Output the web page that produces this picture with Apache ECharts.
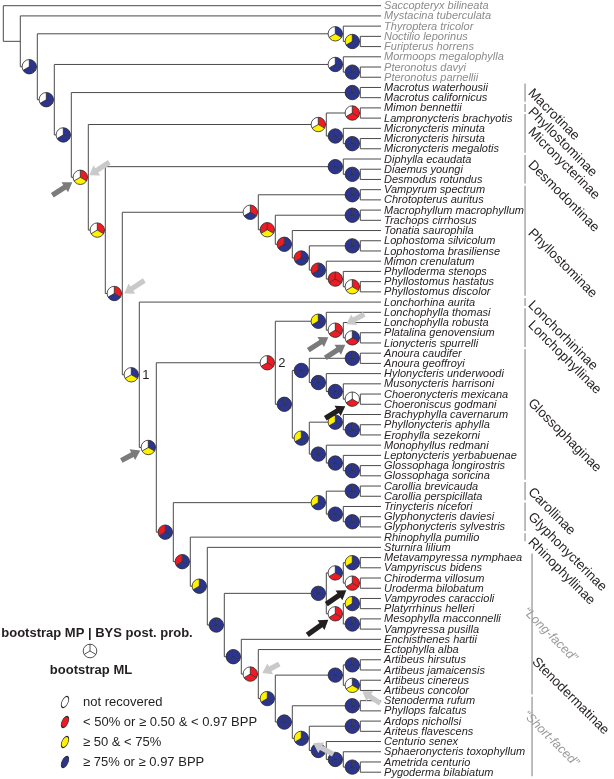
<!DOCTYPE html>
<html><head><meta charset="utf-8">
<script src="https://cdn.jsdelivr.net/npm/echarts@6/dist/echarts.min.js"></script>
<style>html,body{margin:0;padding:0;background:#fff}#c{width:614px;height:779px}</style>
</head><body><div id="c"></div>
<script>
// ---------------- DATA ----------------
const taxa = [
 "Saccopteryx bilineata","Mystacina tuberculata","Thyroptera tricolor","Noctilio leporinus","Furipterus horrens",
 "Mormoops megalophylla","Pteronotus davyi","Pteronotus parnellii","Macrotus waterhousii","Macrotus californicus",
 "Mimon bennettii","Lampronycteris brachyotis","Micronycteris minuta","Micronycteris hirsuta","Micronycteris megalotis",
 "Diphylla ecaudata","Diaemus youngi","Desmodus rotundus","Vampyrum spectrum","Chrotopterus auritus",
 "Macrophyllum macrophyllum","Trachops cirrhosus","Tonatia saurophila","Lophostoma silvicolum","Lophostoma brasiliense",
 "Mimon crenulatum","Phylloderma stenops","Phyllostomus hastatus","Phyllostomus discolor","Lonchorhina aurita",
 "Lonchophylla thomasi","Lonchophylla robusta","Platalina genovensium","Lionycteris spurrelli","Anoura caudifer",
 "Anoura geoffroyi","Hylonycteris underwoodi","Musonycteris harrisoni","Choeronycteris mexicana","Choeroniscus godmani",
 "Brachyphylla cavernarum","Phyllonycteris aphylla","Erophylla sezekorni","Monophyllus redmani","Leptonycteris yerbabuenae",
 "Glossophaga longirostris","Glossophaga soricina","Carollia brevicauda","Carollia perspicillata","Trinycteris nicefori",
 "Glyphonycteris daviesi","Glyphonycteris sylvestris","Rhinophylla pumilio","Sturnira lilium","Metavampyressa nymphaea",
 "Vampyriscus bidens","Chiroderma villosum","Uroderma bilobatum","Vampyrodes caraccioli","Platyrrhinus helleri",
 "Mesophylla macconnelli","Vampyressa pusilla","Enchisthenes hartii","Ectophylla alba","Artibeus hirsutus",
 "Artibeus jamaicensis","Artibeus cinereus","Artibeus concolor","Stenoderma rufum","Phyllops falcatus",
 "Ardops nichollsi","Ariteus flavescens","Centurio senex","Sphaeronycteris toxophyllum","Ametrida centurio",
 "Pygoderma bilabiatum"];
const outgroupCount = 8;

// Topology: numbers = rows of `taxa`; code after ')' = support MP | BYS | ML
// W not recovered, R <50% / <0.97, Y 50-75%, B >=75% / >=0.97, '-' no pie
const cladeMicronycterinae = "((10,11)WRR,(12,(13,14)BBB)BBB)WRY";
const cladeDesmodontinae  = "(15,(16,17)BBB)BBB";
const cladePhyllostominae = "((18,19)BBB,((20,21)BBB,(22,((23,24)BBB,(25,(26,(27,28)WRY)RRR)RBB)RBB)RBB)RRY)WRB";
const cladeLonchophyllinae = "(30,(31,(32,33)WBR)WRR)YBB";
const cladeGlossophaginae = "(((34,35)BBB,(36,(37,(38,39)WWR)BBB)BBB)BBB,((40,(41,42)BBB)YBB,(43,(44,(45,46)BBB)BBB)BBB)YBB)BBB";
const cladeCarolGlypho = "((47,48)BBB,(49,(50,51)BBB)BBB)YBB";
const cladeLongFaced = "(((54,55)YBB,(56,57)WRR)WBR,((58,59)YBB,(60,61)BBB)WRR)BBB";
const cladeShortFaced = "(63,(((64,65)BBB,(66,67)WBY)BBB,((68,69)BBB,((70,71)BBB,(72,(73,(74,75)BBB)BBB)BBB)YBB)BBB)YBB)WRR";

const supportColors = {W:'#ffffff', R:'#ed1c24', Y:'#fff200', B:'#2b3590'};

const subfamilies = ["Macrotinae","Phyllostominae","Micronycterinae","Desmodontinae","Phyllostominae",
 "Lonchorhininae","Lonchophyllinae","Glossophaginae","Carollinae","Glyphonycterinae","Rhinophyllinae"];
const subfamilyFrom = [8,10,11,15,18,29,30,34,47,49,52];
const subfamilyTo   = [9,10,14,17,28,29,33,46,48,51,52];
const groups = ["\u201CLong-faced\u201D","\u201CShort-faced\u201D"];
const groupFrom = [54,68];
const groupTo   = [67,75];

const legendLabels = ["not recovered","< 50% or \u2265 0.50 & < 0.97 BPP","\u2265 50 & < 75%","\u2265 75% or \u2265 0.97 BPP"];
const legendCodes = ["W","R","Y","B"];

// ---------------- TREE BUILD ----------------
const backbone =
 "(0,(1,((2,(3,4)YBB)WBY,((5,(6,7)BBB)WBB,((8,9)BBB,(" + cladeMicronycterinae + ",(" + cladeDesmodontinae +
 ",(" + cladePhyllostominae + ",(29,((" + cladeLonchophyllinae + "," + cladeGlossophaginae + ")WRR,(" +
 cladeCarolGlypho + ",(52,(53,(" + cladeLongFaced + ",(62," + cladeShortFaced + ")BBB)BBB)YBB)RBB)RBB)WBY)WBY)WRB)WRY)WRY)WBB)WBB)WBB)-)-";

function parseTree(s){
  let i = 0;
  function node(){
    if (s[i] === '('){
      i++; const ch = [node()];
      while (s[i] === ','){ i++; ch.push(node()); }
      i++;
      let lab = ''; while (i < s.length && /[A-Z\-]/.test(s[i])) lab += s[i++];
      return {children: ch, support: lab === '-' ? null : lab};
    }
    let num = ''; while (/[0-9]/.test(s[i])) num += s[i++];
    return {tip: +num};
  }
  return node();
}
const root = parseTree(backbone);
const nodes = [];
function heights(n){
  if (n.tip !== undefined){ n.h = 0; n.y = n.tip; n.first = n.last = n.tip; return; }
  n.children.forEach(heights);
  n.h = 1 + Math.max(...n.children.map(c => c.h));
  n.y = (n.children[0].y + n.children[n.children.length-1].y) / 2;
  n.first = n.children[0].first; n.last = n.children[n.children.length-1].last;
  nodes.push(n);
}
heights(root);
const ROOT_H = root.h;
const TIP_X = ROOT_H + 0.22;
function setX(n){ n.x = n.tip !== undefined ? TIP_X : ROOT_H - n.h; if (n.children) n.children.forEach(setX); }
setX(root);

const segments = [];
nodes.forEach(n => {
  segments.push([n.x, n.children[0].y, n.x, n.children[n.children.length-1].y]);
  n.children.forEach(c => segments.push([n.x, c.y, c.x, c.y]));
});
const pieNodes = nodes.filter(n => n.support);
const findNode = (a,b) => nodes.find(n => n.first === a && n.last === b);

// annotations (pixel offsets relative to pie centre)
const arrowColors = {dark:'#7b7b7b', light:'#c9c9c9', black:'#231f20'};
const arrows = [
 {clade:[10,75], c:'dark',  head:[-8,5],  tail:[-28,18]},
 {clade:[10,75], c:'light', head:[9,-2],  tail:[29,-15]},
 {clade:[18,75], c:'light', head:[10,0],  tail:[30,-13]},
 {clade:[30,75], c:'dark',  head:[-8,3],  tail:[-27,13]},
 {clade:[31,33], c:'dark',  head:[-7,7],  tail:[-27,20]},
 {clade:[31,33], c:'light', head:[11,-6], tail:[29,-16]},
 {clade:[32,33], c:'dark',  head:[-7,7],  tail:[-27,20]},
 {clade:[38,39], c:'black', head:[-7,7],  tail:[-27,19]},
 {clade:[56,57], c:'black', head:[-6,7],  tail:[-26,21]},
 {clade:[58,61], c:'black', head:[-7,6],  tail:[-28,21]},
 {clade:[63,75], c:'light', head:[12,-1], tail:[29,-10]},
 {clade:[66,67], c:'light', head:[10,6],  tail:[28,18]},
 {clade:[70,75], c:'light', head:[12,5],  tail:[32,16]}
];
const nodeNumbers = [{clade:[29,75], text:'1'}, {clade:[30,46], text:'2'}];
const subLabelRow = [8.35,10.2,12.16,15.39,22.05,29.09,31.05,38.68,47.39,49.83,52.28];
const groupLabelRow = [59.1,69.2];
const stenoLabelRow = 64.0;

// ---------------- CHART ----------------
const PX_LEVEL = 17, PX_ROW = 10.22, PIE_R = 7.2, PIE_OFF = 8;
const FONT = '"Liberation Sans", Arial, sans-serif';
const chart = echarts.init(document.getElementById('c'));

function pieGroup(cx, cy, r, code){
  const secs = [[150,270],[-90,30],[30,150]];
  const ch = secs.map((s,k) => ({type:'sector', shape:{cx, cy, r0:0, r, startAngle:s[0]*Math.PI/180, endAngle:s[1]*Math.PI/180, clockwise:true},
     style:{fill: code ? supportColors[code[k]] : '#fff'}}));
  ch.push({type:'circle', shape:{cx, cy, r}, style:{fill:'none', stroke:'#2a2a2a', lineWidth:0.8}});
  [-90,30,150].forEach(a => ch.push({type:'line', shape:{x1:cx, y1:cy, x2:cx+r*Math.cos(a*Math.PI/180), y2:cy+r*Math.sin(a*Math.PI/180)}, style:{stroke:'#2a2a2a', lineWidth:0.8}}));
  return ch;
}

const option = {
  animation:false,
  grid:{left:3.3, top:5.7, width:PX_LEVEL*TIP_X, height:PX_ROW*(taxa.length-1)},
  xAxis:{type:'value', min:0, max:TIP_X, show:false},
  yAxis:{type:'value', min:0, max:taxa.length-1, inverse:true, show:false},
  series:[
    { type:'custom', clip:false, silent:true, z:1,
      data:segments, encode:{x:[0,2], y:[1,3]},
      renderItem:(p, api) => {
        const a = api.coord([api.value(0), api.value(1)]), b = api.coord([api.value(2), api.value(3)]);
        return {type:'line', shape:{x1:a[0], y1:a[1], x2:b[0], y2:b[1]}, style:{stroke:'#4a4a4a', lineWidth:1}};
      }},
    { type:'custom', clip:false, silent:true, z:3,
      data:pieNodes.map((n,i) => [n.x, n.y, i]),
      renderItem:(p, api) => {
        const c = api.coord([api.value(0), api.value(1)]);
        return {type:'group', children: pieGroup(c[0]-PIE_OFF, c[1], PIE_R, pieNodes[api.value(2)].support)};
      }},
    { type:'custom', clip:false, silent:true, z:4,
      data:arrows.map((a,i) => { const n = findNode(a.clade[0], a.clade[1]); return [n.x, n.y, i]; }),
      renderItem:(p, api) => {
        const c = api.coord([api.value(0), api.value(1)]);
        const a = arrows[api.value(2)];
        const cx = c[0]-PIE_OFF, cy = c[1];
        const H = [cx+a.head[0], cy+a.head[1]], T = [cx+a.tail[0], cy+a.tail[1]];
        const L = Math.hypot(H[0]-T[0], H[1]-T[1]); const u = [(H[0]-T[0])/L, (H[1]-T[1])/L], nn = [-u[1], u[0]];
        const B = [H[0]-u[0]*9, H[1]-u[1]*9];
        const pt = (P, k) => [P[0]+nn[0]*k, P[1]+nn[1]*k];
        return {type:'polygon', shape:{points:[pt(T,2.6), pt(B,2.6), pt(B,6), H, pt(B,-6), pt(B,-2.6), pt(T,-2.6)]}, style:{fill:arrowColors[a.c]}};
      }},
    { type:'custom', clip:false, silent:true, z:5,
      data:taxa.map((t,i) => [TIP_X, i]),
      renderItem:(p, api) => {
        const c = api.coord([api.value(0), api.value(1)]);
        const i = p.dataIndex;
        return {type:'text', x:c[0]+3, y:c[1]+0.5, style:{text:taxa[i], font:'italic 11px '+FONT, fill: i < outgroupCount ? '#8c8c8c' : '#231f20', align:'left', verticalAlign:'middle'}};
      }},
    { type:'custom', clip:false, silent:true, z:5,
      data:nodeNumbers.map((m,i) => { const n = findNode(m.clade[0], m.clade[1]); return [n.x, n.y, i]; }),
      renderItem:(p, api) => {
        const c = api.coord([api.value(0), api.value(1)]);
        return {type:'text', x:c[0]+3, y:c[1]+1, style:{text:nodeNumbers[api.value(2)].text, font:'13px '+FONT, fill:'#231f20', align:'left', verticalAlign:'middle'}};
      }},
    { type:'custom', clip:false, silent:true, z:5,
      data:subfamilies.map((s,i) => [TIP_X, subfamilyFrom[i], subfamilyTo[i], subLabelRow[i]]),
      renderItem:(p, api) => {
        const a = api.coord([api.value(0), api.value(1)]), b = api.coord([api.value(0), api.value(2)]), l = api.coord([api.value(0), api.value(3)]);
        const x = a[0] + 144;
        return {type:'group', children:[
          {type:'line', shape:{x1:x, y1:a[1]-4, x2:x, y2:b[1]+4}, style:{stroke:'#9a9a9a', lineWidth:1.3}},
          {type:'text', x:x+5, y:l[1], rotation:-Math.PI/4, style:{text:subfamilies[p.dataIndex], font:'13.5px '+FONT, fill:'#231f20', align:'left', verticalAlign:'middle'}}
        ]};
      }},
    { type:'custom', clip:false, silent:true, z:5,
      data:groups.map((s,i) => [TIP_X, groupFrom[i], groupTo[i], groupLabelRow[i]]),
      renderItem:(p, api) => {
        const a = api.coord([api.value(0), api.value(1)]), b = api.coord([api.value(0), api.value(2)]), l = api.coord([api.value(0), api.value(3)]);
        const x = a[0] + 151;
        const ch = [
          {type:'line', shape:{x1:x, y1:a[1]-4, x2:x, y2:b[1]+4}, style:{stroke:'#9a9a9a', lineWidth:1.3}},
          {type:'text', x:x-7, y:l[1], rotation:-Math.PI/4, style:{text:groups[p.dataIndex], font:'italic 12.5px '+FONT, fill:'#9a9a9a', align:'left', verticalAlign:'middle'}}
        ];
        if (p.dataIndex === 0){
          const s = api.coord([api.value(0), stenoLabelRow]);
          ch.push({type:'text', x:x+2, y:s[1], rotation:-Math.PI/4, style:{text:'Stenodermatinae', font:'13.5px '+FONT, fill:'#231f20', align:'left', verticalAlign:'middle'}});
        }
        return {type:'group', children:ch};
      }}
  ],
  graphic:[
    {type:'text', x:97, y:633, style:{text:'bootstrap MP | BYS post. prob.', font:'bold 13px '+FONT, fill:'#231f20', align:'center', verticalAlign:'middle'}},
    {type:'group', children: pieGroup(90, 651, 6.8, null)},
    {type:'text', x:91, y:670, style:{text:'bootstrap ML', font:'bold 13px '+FONT, fill:'#231f20', align:'center', verticalAlign:'middle'}},
    ...legendLabels.map((t,i) => ({type:'group', children:[
      {type:'circle', x:65, y:702+20*i, rotation:-0.45, scaleX:0.5, shape:{cx:0, cy:0, r:6}, style:{fill:supportColors[legendCodes[i]], stroke:'#2a2a2a', lineWidth:1.3}},
      {type:'text', x:83, y:702+20*i, style:{text:t, font:'13px '+FONT, fill:'#231f20', align:'left', verticalAlign:'middle'}}
    ]}))
  ]
};
chart.setOption(option);
</script></body></html>
